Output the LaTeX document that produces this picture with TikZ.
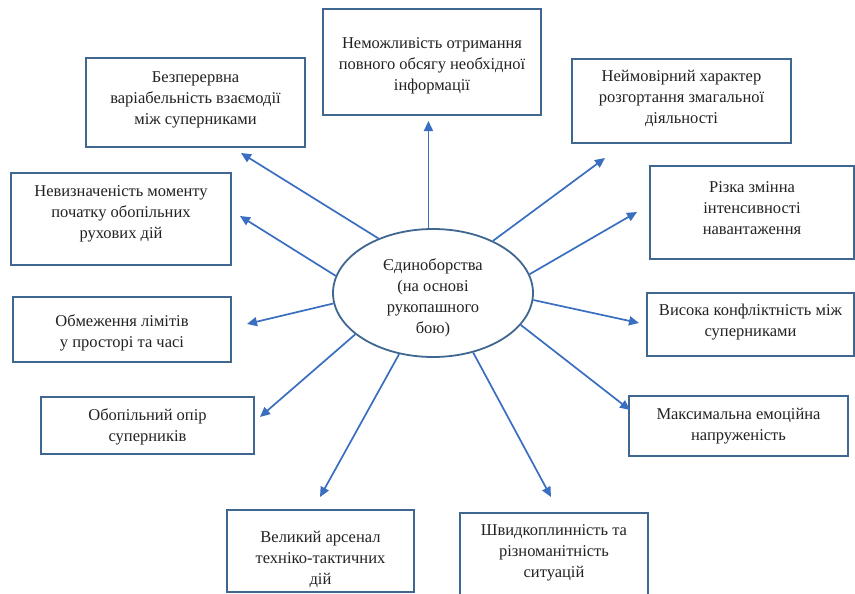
\documentclass[tikz,border=0pt]{standalone}
\usepackage{fontspec}
\setmainfont{Liberation Serif}
\usetikzlibrary{arrows.meta,shapes.geometric}
\definecolor{boxc}{HTML}{3F6790}
\definecolor{arrc}{HTML}{3A6EC0}
\definecolor{txtc}{HTML}{222222}
\begin{document}
\begin{tikzpicture}[x=1pt,y=-1pt,
  box/.style={draw=boxc,line width=1.8pt,rectangle,inner sep=0pt},
  txt/.style={align=center,text=txtc,font=\fontsize{16.5}{21}\selectfont,inner sep=0pt},
  arr/.style={draw=arrc,line width=1.7pt,-{Triangle[length=10pt,width=9pt]}}]
\useasboundingbox (0,0) rectangle (855,594);
\fill[white] (0,0) rectangle (855,594);
% centre
\node[ellipse,draw=boxc,line width=1.8pt,minimum width=200pt,minimum height=128pt,inner sep=0pt] (c) at (433,293) {};
\node[txt] (ct) at (433,298) {Єдиноборства\\(на основі\\рукопашного\\бою)};
% boxes
\node[box,minimum width=218pt,minimum height=106pt] (b1) at (432,62) {};
\node[box,minimum width=219pt,minimum height=89pt] (b2) at (195.5,102.5) {};
\node[box,minimum width=220pt,minimum height=92pt] (b3) at (121,219) {};
\node[box,minimum width=218pt,minimum height=65pt] (b4) at (122,329.5) {};
\node[box,minimum width=213pt,minimum height=57pt] (b5) at (147.5,425.5) {};
\node[box,minimum width=187pt,minimum height=82pt] (b6) at (320.5,551) {};
\node[box,minimum width=188pt,minimum height=84pt] (b7) at (554,555) {};
\node[box,minimum width=219pt,minimum height=60pt] (b8) at (738.5,426) {};
\node[box,minimum width=207pt,minimum height=63pt] (b9) at (750.5,324.5) {};
\node[box,minimum width=204pt,minimum height=93pt] (b10) at (752,212.5) {};
\node[box,minimum width=219pt,minimum height=84pt] (b11) at (681.5,101) {};
% texts
\node[txt] (x1) at ([yshift=-4pt]b1.center) {Неможливість отримання\\повного обсягу необхідної\\інформації};
\node[txt] (x2) at ([yshift=3pt]b2.center) {Безперервна\\варіабельність взаємодії\\між суперниками};
\node[txt] (x3) at ([yshift=5pt]b3.center) {Невизначеність моменту\\початку обопільних\\рухових дій};
\node[txt] (x4) at ([yshift=-3.5pt]b4.center) {Обмеження лімітів\\у просторі та часі};
\node[txt] (x5) at ([yshift=-1.5pt]b5.center) {Обопільний опір\\суперників};
\node[txt] (x6) at ([yshift=-8pt]b6.center) {Великий арсенал\\техніко-тактичних\\дій};
\node[txt] (x7) at ([yshift=2pt]b7.center) {Швидкоплинність та\\різноманітність\\ситуацій};
\node[txt] (x8) at ([yshift=-0.5pt]b8.center) {Максимальна емоційна\\напруженість};
\node[txt] (x9) at ([yshift=2.5pt]b9.center) {Висока конфліктність між\\суперниками};
\node[txt] (x10) at ([yshift=4pt]b10.center) {Різка змінна\\інтенсивності\\навантаження};
\node[txt] (x11) at ([yshift=3pt]b11.center) {Неймовірний характер\\розгортання змагальної\\діяльності};
% arrow tips
\coordinate (t1) at (428,121);
\coordinate (t2) at (241,153);
\coordinate (t3) at (240,216);
\coordinate (t4) at (247,324);
\coordinate (t5) at (260,417);
\coordinate (t6) at (320,497);
\coordinate (t7) at (551,497);
\coordinate (t8) at (630,410);
\coordinate (t9) at (639,323);
\coordinate (t10) at (637,212);
\coordinate (t11) at (605,158);
% arrows
\draw[arr] (c.94) -- (c.94 |- t1);
\draw[arr] (c.135) -- (t2);
\draw[arr] (c.170) -- (t3);
\draw[arr] (c.186) -- (t4);
\draw[arr] (c.208) -- (t5);
\draw[arr] (c.241) -- (t6);
\draw[arr] (c.304) -- (t7);
\draw[arr] (c.340) -- (t8);
\draw[arr] (c.356) -- (t9);
\draw[arr] (c.11) -- (t10);
\draw[arr] (c.41) -- (t11);
\end{tikzpicture}
\end{document}
